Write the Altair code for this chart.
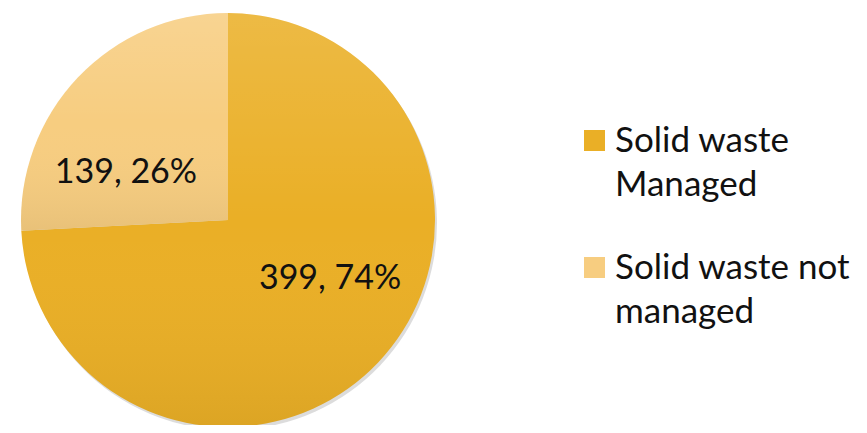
import altair as alt
import pandas as pd

categories = ["Solid waste|Managed", "Solid waste not|managed"]
values = [399, 139]
percents = ["74%", "26%"]
colors = ["#EAAF26", "#F7CD80"]

df = pd.DataFrame({"cat": categories, "val": values, "pct": percents, "order": [0, 1]})
df["label"] = df["val"].astype(str) + ", " + df["pct"]

base = alt.Chart(df)

shadow = base.mark_arc(radius=207, color="#9a9a9a", opacity=0.35, stroke=None).encode(
    theta=alt.Theta("val:Q", stack=True),
    order=alt.Order("order:O"),
    x=alt.value(222), y=alt.value(215),
)

pie = base.mark_arc(radius=207, stroke=None).encode(
    theta=alt.Theta("val:Q", stack=True),
    order=alt.Order("order:O"),
    color=alt.Color(
        "cat:N",
        sort=categories,
        scale=alt.Scale(domain=categories, range=colors),
        legend=alt.Legend(
            title=None,
            orient="none",
            legendX=569,
            legendY=115,
            symbolType="square",
            symbolSize=441,
            symbolStrokeWidth=0,
            labelExpr="split(datum.label, '|')",
            labelFont="Lato",
            labelFontSize=35,
            labelColor="#111111",
            labelOffset=3,
            labelLimit=400,
            rowPadding=47,
        ),
    ),
    x=alt.value(220), y=alt.value(212),
)

shade = base.mark_arc(
    radius=207,
    stroke=None,
    fill=alt.LinearGradient(
        gradient="linear",
        stops=[
            alt.GradientStop(offset=0, color="rgba(255,255,255,0.14)"),
            alt.GradientStop(offset=0.5, color="rgba(255,255,255,0)"),
            alt.GradientStop(offset=1, color="rgba(0,0,0,0.06)"),
        ],
        x1=0, x2=0, y1=0, y2=1,
    ),
).encode(
    theta=alt.Theta("val:Q", stack=True),
    order=alt.Order("order:O"),
    x=alt.value(220), y=alt.value(212),
)

text = base.mark_text(radius=115, dy=6, font="Lato", fontSize=34, color="#111111").encode(
    theta=alt.Theta("val:Q", stack=True, scale=alt.Scale(range=[-0.28, 6.0032])),
    order=alt.Order("order:O"),
    text="label:N",
    x=alt.value(220), y=alt.value(212),
)

chart = (
    alt.layer(shadow, pie, shade, text)
    .resolve_scale(theta="independent")
    .properties(width=845, height=417, autosize=alt.AutoSizeParams(type="none"), padding=0)
    .configure(style={"guide-label": {"lineHeight": 44}})
    .configure_view(stroke=None)
)

chart.save("out.html", embed_options={"renderer": "svg", "actions": False})
